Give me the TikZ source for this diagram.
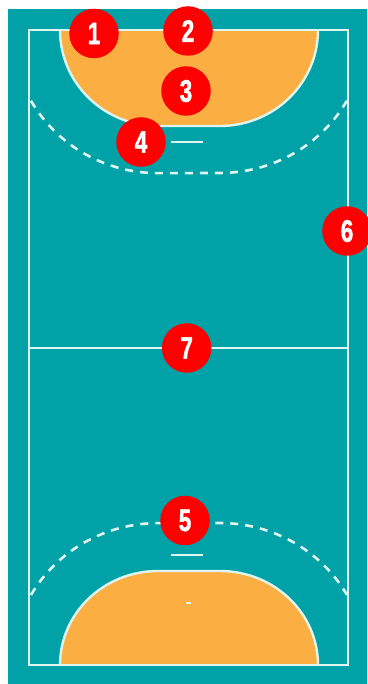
\documentclass[tikz,border=0pt]{standalone}
\usepackage{xcolor}
\usepackage{fontspec}
\setmainfont{Liberation Sans}
\newfontfamily\digitfont[UprightFont=* Bold, FakeBold=2]{Liberation Sans}
\usepackage{tikz}
\definecolor{courtteal}{RGB}{0,161,167}
\definecolor{areaorange}{RGB}{251,174,66}
\definecolor{linepale}{RGB}{222,245,240}
\definecolor{markred}{RGB}{255,0,0}
\newcommand{\digit}[1]{\scalebox{.72}[1]{#1}}

\begin{document}
\begin{tikzpicture}[
    x=1pt, y=1pt,
    courtline/.style={draw=linepale, line width=2.4pt},
    areafill/.style={fill=areaorange, draw=linepale, line width=2.4pt},
    throwline/.style={draw=linepale, line width=2.6pt, dash pattern=on 8pt off 7pt},
    marker/.style={circle, fill=markred, minimum size=49.5pt, inner sep=0pt,
        text=white, font=\fontsize{31}{31}\digitfont}
]
\useasboundingbox (0,0) rectangle (367,684);
\fill[courtteal] (8,0) rectangle (367,675);

% goal areas
\draw[areafill] (60,654) arc[x radius=98, y radius=96, start angle=180, end angle=270]
    -- (220,558) arc[x radius=98, y radius=96, start angle=270, end angle=360];
\draw[areafill] (60,19) arc[x radius=98, y radius=94, start angle=180, end angle=90]
    -- (220,113) arc[x radius=98, y radius=94, start angle=90, end angle=0];

% court lines
\draw[courtline] (29,654) rectangle (348,19);
\draw[courtline] (29,336) -- (348,336);
\draw[courtline] (171,542) -- (203,542);
\draw[courtline] (171,129) -- (203,129);
\draw[courtline] (186,81) -- (191,81);

% free throw lines
\draw[throwline] (31,583.2) arc[x radius=146, y radius=143, start angle=209.6, end angle=270]
    -- (220,511) arc[x radius=146, y radius=143, start angle=270, end angle=330.4];
\draw[throwline] (31,89) arc[x radius=146, y radius=142, start angle=150.4, end angle=90]
    -- (220,161) arc[x radius=146, y radius=142, start angle=90, end angle=29.6];

% numbered markers
\node[marker] (one) at (94,650.5) {\digit{1}};
\node[marker] (two) at (188,653) {\digit{2}};
\node[marker] (three) at (186,593) {\digit{3}};
\node[marker] (four) at (141,542) {\digit{4}};
\node[marker] (five) at (185,163.5) {\digit{5}};
\node[marker] (six) at (347,453) {\digit{6}};
\node[marker] (seven) at (186.7,336) {\digit{7}};
\end{tikzpicture}
\end{document}
